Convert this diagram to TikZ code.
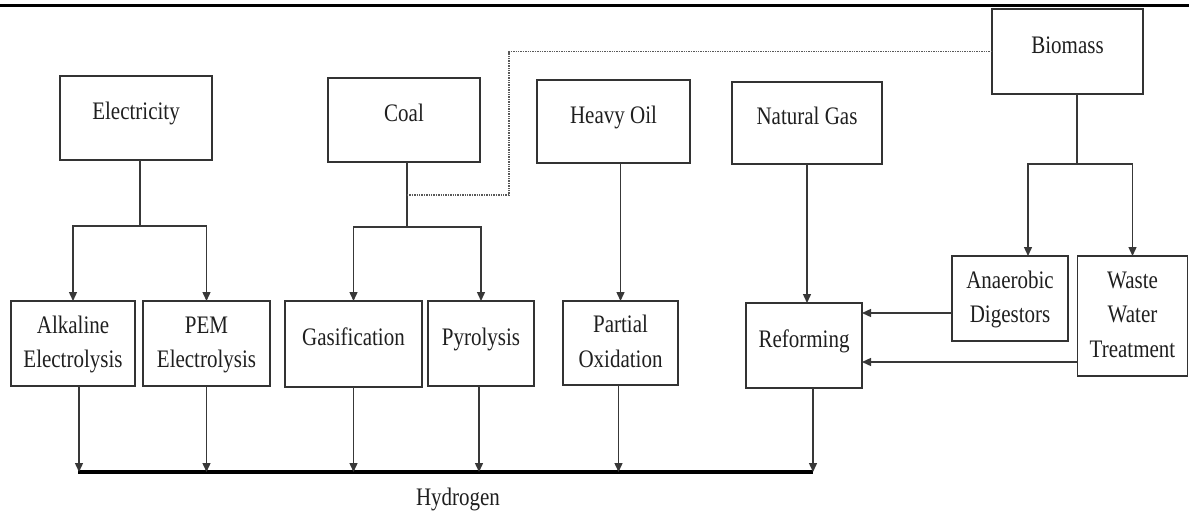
\documentclass[tikz,border=0pt]{standalone}
\usepackage{fontspec}
\setmainfont{Liberation Serif}
\usetikzlibrary{positioning,arrows.meta}
\newcommand{\tall}[1]{\scalebox{1}[1.2]{\begin{tabular}{@{}c@{}}#1\end{tabular}}}

\begin{document}
\begin{tikzpicture}[x=1pt,y=-1pt,
  box/.style={draw=black!80,line width=1.6pt,inner sep=0pt,outer sep=0pt,
    font=\fontsize{21}{29}\selectfont,text=black!88},
  up/.style={text depth=22pt},
  link/.style={draw=black!78,line width=1.4pt},
  arr/.style={link,-{Triangle[length=9pt,width=8pt]}}]
  \useasboundingbox (0,0) rectangle (1189,517);
  \draw[line width=3.5pt] (0,5.5) -- (1189,5.5);
  % sources
  \node[box,up,minimum width=152pt,minimum height=84pt] (elec) at (136,118) {\tall{Electricity}};
  \node[box,up,minimum width=152pt,minimum height=84pt] (coal) at (404,120) {\tall{Coal}};
  \node[box,up,minimum width=153pt,minimum height=83pt] (oil) at (613.5,121.5) {\tall{Heavy Oil}};
  \node[box,up,minimum width=150pt,minimum height=82pt] (gas) at (807,123) {\tall{Natural Gas}};
  \node[box,up,minimum width=151pt,minimum height=85pt] (bio) at (1067.5,51.5) {\tall{Biomass}};
  % processes
  \node[box,minimum width=124pt,minimum height=85pt] (alk) at (73,343.5) {\tall{Alkaline\\Electrolysis}};
  \node[box,minimum width=127pt,minimum height=85pt] (pem) at (206.5,343.5) {\tall{PEM\\Electrolysis}};
  \node[box,up,minimum width=137pt,minimum height=86pt] (gasif) at (353.5,344) {\tall{Gasification}};
  \node[box,up,minimum width=106pt,minimum height=85pt] (pyro) at (481,343.5) {\tall{Pyrolysis}};
  \node[box,minimum width=115pt,minimum height=84pt] (pox) at (620.5,343) {\tall{Partial\\Oxidation}};
  \node[box,up,minimum width=116pt,minimum height=85pt] (ref) at (804,345.5) {\tall{Reforming}};
  \node[box,minimum width=116pt,minimum height=85pt] (ana) at (1010,298.5) {\tall{Anaerobic\\Digestors}};
  \node[box,minimum width=110pt,minimum height=120pt] (ww) at (1132.5,316) {\tall{Waste\\Water\\Treatment}};
  \node[font=\fontsize{21}{29}\selectfont,text=black!88] (hyd) at (458,499) {\tall{Hydrogen}};
  % junctions
  \coordinate (J1) at (140,226); \coordinate (J2) at (407,227);
  \coordinate (J3) at (1077,164);
  \coordinate (D1) at (407,195); \coordinate (D2) at (509,195);
  \coordinate (H1) at (78,472); \coordinate (H2) at (813,472);
  \draw[link] (J1 |- elec.south) -- (J1);
  \draw[arr] (J1) -| (alk.north); \draw[arr] (J1) -| (pem.north);
  \draw[link] (J2 |- coal.south) -- (J2);
  \draw[arr] (J2) -| (gasif.north); \draw[arr] (J2) -| (pyro.north);
  \draw[link,densely dotted,draw=black!65,line width=1.6pt] (D1) -- (D2) |- (bio.west);
  \draw[arr] (pox.north |- oil.south) -- (pox.north);
  \draw[arr] (gas.south) -- (gas.south |- ref.north);
  \draw[link] (J3 |- bio.south) -- (J3);
  \draw[arr] (J3) -| ([xshift=18pt]ana.north); \draw[arr] (J3) -| (ww.north);
  \draw[arr] ([yshift=-14.5pt]ana.west) -- ([yshift=-14.5pt]ana.west -| ref.east);
  \draw[arr] ([yshift=-46pt]ww.west) -- ([yshift=-46pt]ww.west -| ref.east);
  % hydrogen line
  \draw[line width=3.2pt] (H1) -- (H2);
  \foreach \n/\dx in {alk/6,pem/0,gasif/0,pyro/-2,pox/-2,ref/9}
    \draw[arr] ([xshift=\dx pt]\n.south) -- ([xshift=\dx pt]\n.south |- H1);
\end{tikzpicture}
\end{document}
